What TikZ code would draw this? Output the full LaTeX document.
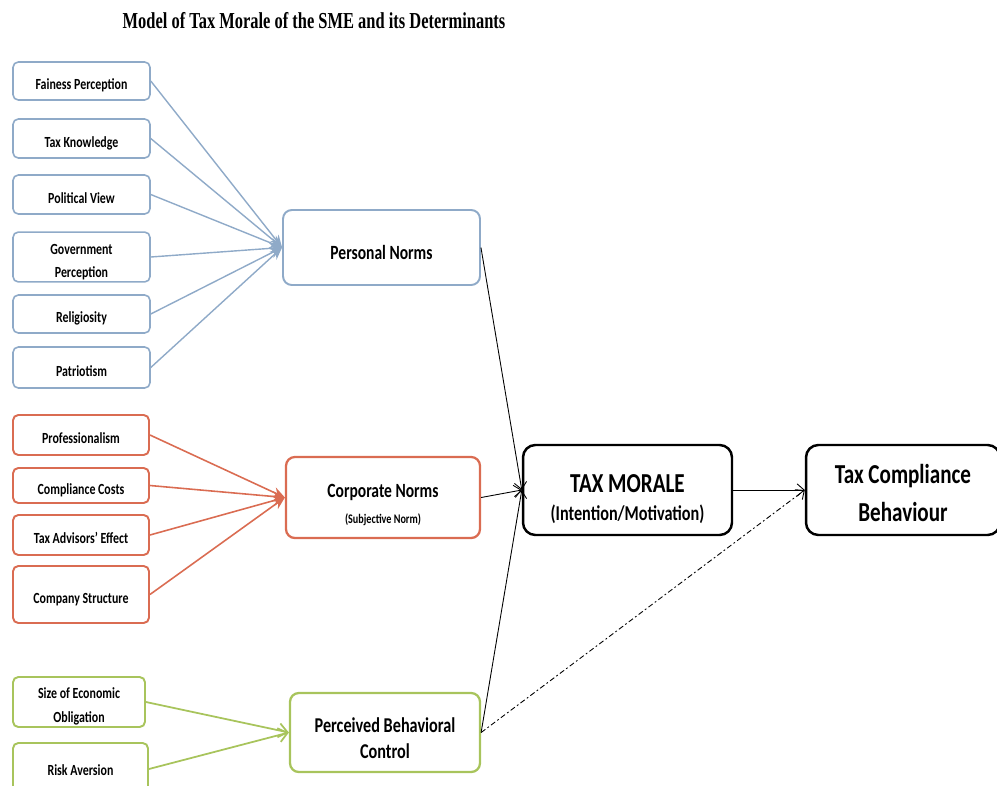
\documentclass[tikz,border=0pt]{standalone}
\usepackage{fontspec}
\setmainfont{Carlito}[FakeStretch=0.77]
\newfontfamily\titlefont{Liberation Serif}[FakeStretch=0.72]
\usetikzlibrary{arrows.meta}
\definecolor{normblue}{RGB}{143,170,200}
\definecolor{normred}{RGB}{218,108,82}
\definecolor{normgreen}{RGB}{168,196,92}

\begin{document}
\begin{tikzpicture}[x=0.02cm,y=-0.02cm,
    small/.style={draw, rounded corners=3pt, line width=0.9pt, minimum width=2.74cm, align=center, inner sep=1pt, font=\bfseries\fontsize{8.8}{12.5}\selectfont},
    oneline/.style={text height=12pt, text depth=2pt},
    big/.style={draw, rounded corners=5pt, line width=1.1pt, align=center, inner sep=1pt, font=\bfseries\fontsize{11.5}{15}\selectfont},
    main/.style={draw, rounded corners=7pt, line width=1.4pt, align=center, inner sep=1pt},
    bluelink/.style={normblue, line width=0.8pt, -{Stealth[length=7pt,width=6pt]}},
    redlink/.style={normred, line width=0.9pt, -{Stealth[length=7pt,width=6pt]}},
    greenlink/.style={normgreen, line width=1pt, -{Straight Barb[length=5pt,width=8pt]}},
    blacklink/.style={line width=0.5pt, -{Straight Barb[length=4pt,width=7pt]}}]
    \useasboundingbox (0,0) rectangle (997,785);
    \node (title) at (314,21) {\titlefont\bfseries\fontsize{13}{15}\selectfont Model of Tax Morale of the SME and its Determinants};
    \node[small, oneline, normblue, text=black, minimum height=0.76cm] (fp) at (81.5,81) {Fainess Perception};
    \node[small, oneline, normblue, text=black, minimum height=0.78cm] (tk) at (81.5,138.5) {Tax Knowledge};
    \node[small, oneline, normblue, text=black, minimum height=0.78cm] (pv) at (81.5,194.5) {Political View};
    \node[small, normblue, text=black, minimum height=0.96cm, text height=25pt, font=\bfseries\fontsize{8.8}{13}\selectfont] (gp) at (81.5,257) {Government\\Perception};
    \node[small, oneline, normblue, text=black, minimum height=0.76cm] (rel) at (81.5,314) {Religiosity};
    \node[small, oneline, normblue, text=black, minimum height=0.82cm] (pat) at (81.5,367.5) {Patriotism};
    \node[big, normblue, text=black, text height=14pt, text depth=0pt, minimum width=3.94cm, minimum height=1.5cm] (pn) at (381.5,247.5) {Personal Norms};
    \node[small, oneline, normred, text=black, line width=1.1pt, minimum width=2.72cm, minimum height=0.8cm] (prof) at (81,435) {Professionalism};
    \node[small, oneline, normred, text=black, line width=1.1pt, minimum width=2.72cm, minimum height=0.7cm] (cc) at (81,485.5) {Compliance Costs};
    \node[small, oneline, normred, text=black, line width=1.1pt, minimum width=2.72cm, minimum height=0.8cm] (tae) at (81,535) {Tax Advisors' Effect};
    \node[small, oneline, normred, text=black, line width=1.1pt, minimum width=2.72cm, minimum height=1.14cm] (cs) at (81,594.5) {Company Structure};
    \node[big, normred, text=black, line width=1.3pt, minimum width=3.88cm, minimum height=1.62cm, text height=31pt] (cn) at (383,497.5) {Corporate Norms\\[-0.3pt]{\fontsize{7.5}{9}\selectfont(Subjective Norm)}};
    \node[small, normgreen, text=black, line width=1.1pt, minimum width=2.64cm, minimum height=1cm, text height=24.7pt, font=\bfseries\fontsize{8.8}{13.5}\selectfont] (seo) at (79,702) {Size of Economic\\Obligation};
    \node[small, normgreen, text=black, line width=1.1pt, minimum width=2.7cm, minimum height=1.04cm, text height=9pt, text depth=2pt] (ra) at (80.5,769) {Risk Aversion};
    \node[big, normgreen, text=black, line width=1.3pt, minimum width=3.8cm, minimum height=1.58cm, text height=29.6pt, font=\bfseries\fontsize{12}{15}\selectfont] (pbc) at (385,732.5) {Perceived Behavioral\\Control};
    \node[main, minimum width=4.18cm, minimum height=1.8cm, text height=36pt, font=\bfseries\fontsize{15.6}{14}\selectfont] (tm) at (627.5,490) {TAX MORALE\\[1.5pt]{\fontsize{12}{14}\selectfont(Intention/Motivation)}};
    \node[main, minimum width=3.88cm, minimum height=1.8cm, text height=36.5pt, font=\bfseries\fontsize{15.6}{22}\selectfont] (tcb) at (903,490) {Tax Compliance\\Behaviour};
    \foreach \n in {fp,tk,pv,gp,rel,pat}
        \draw[bluelink] (\n.east) -- (pn.west);
    \foreach \n in {prof,cc,tae,cs}
        \draw[redlink] (\n.east) -- (cn.west);
    \foreach \n in {seo,ra}
        \draw[greenlink] (\n.east) -- (pbc.west);
    \foreach \n in {pn,cn,pbc}
        \draw[blacklink] (\n.east) -- (tm.west);
    \draw[blacklink] (tm) -- (tcb);
    \draw[blacklink, dash pattern=on 3pt off 1.5pt on 1pt off 1.5pt] (pbc.east) -- (tcb.west);
\end{tikzpicture}
\end{document}
